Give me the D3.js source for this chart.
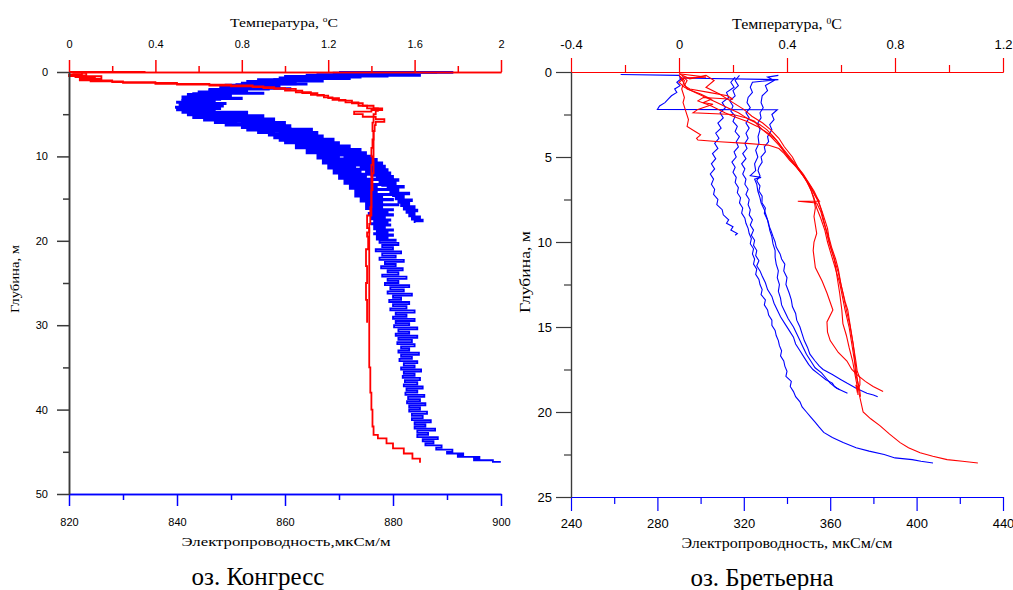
<!DOCTYPE html>
<html>
<head>
<meta charset="utf-8">
<script src="https://cdn.jsdelivr.net/npm/d3@7"></script>
<style>
  body { margin: 0; background: #fff; }
  svg { display: block; }
</style>
</head>
<body>
<svg id="chart" width="1013" height="590"></svg>
<script>
// ---- оз. Конгресс: [depth m, value] ----
const kongressCondA = [
  [0,870],[0.08,888],[0.16,869],[0.25,880],[0.35,866],[0.45,885],[0.55,860],[0.65,874],[0.75,859],[0.85,870],
  [0.95,855],[1.05,866],[1.15,853],[1.25,861],[1.35,852],[1.5,864],[1.6,849],[1.75,857],[1.9,848],[2,861],
  [2.15,846],[2.3,852],[2.45,844],[2.6,856],[2.75,842],[2.9,849],[3.05,841],[3.2,852],[3.35,841],[3.5,846],
  [3.65,840],[3.8,849],[3.95,840.5],[4.1,845],[4.25,839.8],[4.4,848],[4.55,840],[4.7,844],[4.85,841],[5,851],
  [5.15,842],[5.3,848],[5.45,843],[5.6,855],[5.75,845],[5.9,851],[6.05,847],[6.2,858],[6.35,849],[6.5,855],
  [6.65,852],[6.8,861],[6.95,853],[7.1,858],[7.25,855],[7.4,864],[7.55,857],[7.7,862],[7.85,858],[8,866],
  [8.15,859],[8.3,863],[8.45,860],[8.6,868],[8.75,862],[8.9,866],[9.05,862],[9.2,871],[9.35,864],[9.5,868],
  [9.65,864],[9.8,873],[9.95,866],[10.1,870],[10.25,866],[10.4,875],[10.55,867],[10.7,872],[10.85,867],[11,876],
  [11.15,868],[11.3,873],[11.45,868],[11.6,877],[11.75,869],[11.9,874],[12.05,869],[12.2,878],[12.35,870],[12.5,875],
  [12.65,870],[12.8,879],[12.95,871],[13.1,876],[13.25,871],[13.4,879],[13.55,872],[13.7,877],[13.85,872],[14,880],
  [14.15,873],[14.3,877],[14.45,873],[14.6,880],[14.75,873],[14.9,878],[15.05,874],[15.2,880],[15.35,874],[15.5,878],
  [15.65,875],[15.8,881],[15.95,875],[16.1,878],[16.25,875],[16.4,880],[16.55,876],[16.7,879],[16.85,875.5],[17,880],
  [17.15,876],[17.3,878.5],[17.45,876],[17.6,879.5],[17.75,876.5],[17.9,879],[18.05,876],[18.2,879.5],[18.35,876.5],[18.5,878.5],
  [18.65,876.5],[18.8,880],[18.95,877],[19.1,879],[19.25,876.5],[19.4,880],[19.55,877],[19.7,879],[19.85,877],[20,880.5],
  [20.25,877.5],[20.5,881],[20.75,878],[21,880],[21.25,876.8],[21.5,881.5],[21.75,878],[22,880.5],[22.25,877.5],[22.5,882],
  [22.75,878.5],[23,880.5],[23.25,877.8],[23.5,881.8],[23.75,879],[24,881],[24.25,878],[24.5,882.5],[24.75,879],[25,881],
  [25.25,878.5],[25.5,883],[25.75,879.5],[26,882],[26.25,879],[26.5,883.5],[26.75,880],[27,881.5],[27.25,879.3],[27.5,883],
  [27.75,880],[28,882.5],[28.25,879.5],[28.5,884],[28.75,880.5],[29,882.5],[29.25,880],[29.5,884],[29.75,880.5],[30,883],
  [30.25,880.2],[30.5,884.5],[30.75,881],[31,883],[31.25,880.5],[31.5,884.5],[31.75,881],[32,883.5],[32.25,880.8],[32.5,884],
  [32.75,881.5],[33,883],[33.25,881],[33.5,884.8],[33.75,881.5],[34,883.5],[34.25,881.2],[34.5,884.5],[34.75,882],[35,884],
  [35.25,881.5],[35.5,885.2],[35.75,882],[36,884],[36.25,881.8],[36.5,885],[36.75,882.2],[37,884.5],[37.25,882],[37.5,885.5],
  [37.75,882.5],[38,884.5],[38.25,882.3],[38.5,885.8],[38.75,882.8],[39,885],[39.25,882.6],[39.5,886],[39.75,883],[40,885],
  [40.25,883],[40.5,886.3],[40.75,883.5],[41,885.5],[41.25,883.5],[41.5,887],[41.75,884],[42,886],[42.25,884],[42.5,887.8],
  [42.75,884.5],[43,886.5],[43.25,884.5],[43.5,888.3],[43.75,885.5],[44,887.5],[44.25,886],[44.5,889],[44.75,888],[45,891],
  [45.2,890],[45.4,893],[45.6,892],[45.8,896],[46,895],[46.2,898.5],[46.3,899.8]
];
const kongressCondB = [
  [0,876],[0.1,891],[0.2,873],[0.3,884],[0.42,864],[0.55,879],[0.7,861],[0.85,872],[1,858],[1.15,867],
  [1.3,855],[1.45,862],[1.6,851],[1.8,859],[1.95,849],[2.1,857],[2.3,846],[2.5,853],[2.7,843],[2.9,850],
  [3.1,842],[3.3,848],[3.5,841],[3.7,847],[3.9,840.5],[4.1,848.5],[4.3,841],[4.5,847],[4.7,842],[4.9,853],
  [5.1,844],[5.3,856],[5.5,847],[5.7,858],[5.9,849],[6.1,860],[6.3,852],[6.5,861],[6.7,855],[6.9,865],
  [7.1,857],[7.3,866],[7.5,859],[7.7,867],[7.9,861],[8.1,869],[8.3,863],[8.5,870],[8.7,865],[8.9,872],
  [9.1,866],[9.3,874],[9.5,868],[9.7,875],[9.9,869],[10.1,876],[10.3,871],[10.5,877],[10.7,872],[10.9,878],
  [11.1,873],[11.3,878.5],[11.5,874],[11.7,879],[11.9,875],[12.1,879.5],[12.3,876],[12.5,880],[12.7,877],[12.9,881],
  [13.1,877.5],[13.3,880.5],[13.5,878],[13.7,882],[13.9,879],[14.1,881],[14.3,879.5],[14.5,883],[14.7,880],[14.9,882],
  [15.1,880.5],[15.3,883.5],[15.5,881],[15.7,883],[15.9,881.5],[16.1,884],[16.3,882],[16.5,884.5],[16.7,882.5],[16.9,884],
  [17.1,883],[17.3,885],[17.5,883.5],[17.7,885.5],[17.9,884]
];
const kongressTempA = [
  [0,0],[0.02,0.35],[0.1,0.02],[0.4,0.08],[0.6,0.03],[0.9,0.12],[1.1,0.1],[1.3,0.25],[1.5,0.5],[1.7,0.75],
  [1.9,0.9],[2.2,1],[2.5,1.08],[2.8,1.15],[3.1,1.2],[3.4,1.25],[3.7,1.31],[4,1.36],[4.3,1.41],[4.6,1.43],
  [5,1.42],[5.5,1.41],[6,1.41],[7,1.405],[8,1.41],[9,1.405],[10,1.4],[11,1.405],[12,1.4],[14,1.4],
  [16,1.4],[18,1.395],[20,1.39],[22,1.39],[25,1.39],[28,1.39],[30,1.39],[32,1.39],[35,1.39],[38,1.395],
  [40,1.4],[42,1.405],[43,1.41],[43.4,1.43],[44,1.47],[44.6,1.5],[45.2,1.55],[45.8,1.59],[46.3,1.625]
];
const kongressTempB = [
  [0,0],[0.3,0.06],[0.5,0],[0.8,0.15],[1,0.05],[1.2,0.2],[1.4,0.4],[1.6,0.65],[1.8,0.85],[2,0.95],
  [2.4,1.05],[2.7,1.12],[3,1.18],[3.3,1.22],[3.6,1.28],[4,1.34],[4.3,1.38],[4.5,1.45],[4.7,1.4],[5,1.32],
  [5.3,1.36],[5.6,1.42],[5.9,1.46],[6.3,1.42],[7,1.415],[8,1.41],[10,1.41],[12,1.41],[14,1.405],[16,1.4],
  [17,1.4],[17.5,1.38],[18.5,1.38],[19,1.39],[19.5,1.38],[21,1.385],[23,1.375],[25,1.38],[27,1.375],[29.7,1.38]
];

// ---- оз. Бретьерна ----
const bretCond1 = [
  [0.3,316],[0.6,314],[0.9,315.5],[1.2,312],[1.5,313],[1.8,310],[2.1,311.5],[2.4,309],[2.7,310.5],[3,308],
  [3.3,309.5],[3.6,307],[3.9,308.5],[4.2,306.5],[4.5,308],[4.8,305.5],[5.1,307],[5.4,305],[5.7,306.5],[6,304.5],
  [6.3,306],[6.6,305],[6.9,306.5],[7.2,306],[7.5,308],[7.8,307.5],[8.1,310],[8.4,310.5],[8.7,313],[8.9,312],
  [9.1,315],[9.3,314],[9.5,317],[9.6,316]
];
const bretCond2 = [
  [0.2,318],[0.5,316],[0.8,317.5],[1.1,315],[1.4,316],[1.7,313.5],[2,315],[2.3,314],[2.6,316],[2.9,315],
  [3.2,317],[3.5,316],[3.8,318],[4.1,316.5],[4.4,317.5],[4.7,315.5],[5,316.5],[5.3,314.5],[5.6,316],[5.9,315],
  [6.2,316.5],[6.5,316],[6.8,317.5],[7.1,317],[7.4,318.5],[7.7,318],[8,319.5],[8.3,319],[8.6,320.5],[8.9,321],
  [9.2,322],[9.5,322.5],[9.8,323.5],[10.1,323],[10.4,324.5],[10.7,324],[11,325],[11.3,324.5],[11.6,326],[11.9,325.5],
  [12.2,327],[12.5,327.5],[12.8,328.5],[13.1,328],[13.4,330],[13.7,329.5],[14,331],[14.3,331.5],[14.6,333],[14.9,333],
  [15.2,334.5],[15.5,335],[15.8,336],[16.1,336.5],[16.4,337.5],[16.7,337],[17,338.5],[17.3,339],[17.6,340],[17.9,339.5],
  [18.2,342],[18.5,341.5],[18.8,343],[19.1,344],[19.4,346],[19.7,347],[20,349],[20.3,351],[20.6,353],[20.9,355],
  [21.2,357],[21.5,361],[21.8,366],[22.1,372],[22.3,378],[22.5,385],[22.7,390],[22.8,398],[22.9,402],[23,407.6]
];
const bretCond3 = [
  [0.35,290],[0.45,336],[0.6,324],[0.9,323],[1.2,324],[1.5,322],[1.8,321.5],[2.1,323],[2.4,321],[2.7,322.5],
  [3,321],[3.3,322.5],[3.6,321],[3.9,322],[4.2,320.5],[4.5,321.5],[4.8,319.5],[5.1,321],[5.4,319],[5.7,320.5],
  [6,319.5],[6.3,321],[6.6,320.5],[6.9,322],[7.2,321],[7.5,322.5],[7.8,322],[8.1,323],[8.4,322.5],[8.7,324],
  [9,323],[9.3,324.5],[9.6,323.5],[9.9,325],[10.2,324.5],[10.5,326],[10.8,325.5],[11.1,327],[11.4,326],[11.7,327.5],
  [12,328.5],[12.4,330],[12.8,331],[13.2,333],[13.6,334],[14,335.5],[14.4,337],[14.8,339],[15.2,341],[15.6,343],
  [16,344],[16.4,346],[16.8,348],[17.2,350],[17.5,352],[17.8,355],[18.1,358],[18.3,361],[18.5,362],[18.7,364.5]
];
const bretCond4 = [
  [0.15,263],[0.2,290],[0.4,291],[0.6,289],[0.8,290.5],[1,288],[1.2,289],[1.4,286.5],[1.6,285],[1.8,283.5],
  [2,281],[2.2,280],[2.22,335.5],[2.5,333],[2.8,334],[3.1,332],[3.4,333],[3.8,331],[4.1,331.5],[4.4,329.5],
  [4.7,330],[5,328],[5.3,328.5],[5.6,327],[5.8,326.6],[6.1,327.5],[6.4,326],[6.7,327.5],[7,327],[7.3,328.5],
  [7.7,328.4],[8,330],[8.3,329.5],[8.7,331],[9,331.5],[9.3,332.5],[9.7,333.6],[10,334.5],[10.3,335],[10.7,336.8],
  [11,337.5],[11.3,339],[11.7,338.5],[12.1,340],[12.5,339.5],[13,341],[13.4,342],[13.8,342.5],[14.2,344],[14.6,344.5],
  [15,346],[15.4,347],[15.8,348],[16.2,349.5],[16.6,350.6],[17,353],[17.3,355],[17.5,356.7],[17.8,361],[18.1,365],
  [18.3,367.7],[18.6,372],[18.9,377],[19,380],[19.1,382]
];
const bretCond5 = [
  [0.2,336],[0.3,331],[0.5,334],[0.8,330],[1.1,331],[1.4,328.5],[1.8,328],[2.1,329],[2.4,327.5],[2.7,328],
  [3,326.5],[3.4,327.5],[3.8,326.6],[4.2,327],[4.6,325.5],[5,326.5],[5.4,325],[5.8,325.5],[6.1,323],[6.2,328],
  [6.3,325],[6.6,326],[7,326.5],[7.4,327.5],[7.7,328],[8.1,329.5],[8.5,330.5],[8.9,331.5],[9.3,332],[9.7,333],
  [10.1,333.5],[10.5,334.5],[10.9,334.5],[11.3,335],[11.7,336],[12.1,335.5],[12.5,336.5],[12.9,336],[13.3,337],[13.7,337.5],
  [14.1,339],[14.5,340.5],[15,343],[15.4,344.5],[15.8,346],[16.2,347.5],[16.6,349],[17,351],[17.4,353],[17.7,356],
  [18,358],[18.3,360],[18.6,363],[18.9,368]
];
const bretTemp1 = [
  [0.2,0],[0.5,0.02],[1,0.01],[1.5,0.02],[1.8,0.015],[2.3,0.025],[2.8,0.035],[3.2,0.03],[3.5,0.06],[3.7,0.08],
  [3.9,0.065],[4,0.07],[4.1,0.15],[4.2,0.25],[4.3,0.33],[4.5,0.37],[4.8,0.39],[5.2,0.41],[5.6,0.435],[6,0.455],
  [6.5,0.475],[7,0.49],[7.5,0.5],[8,0.505],[8.5,0.5],[9,0.505],[9.5,0.51],[10,0.5],[10.5,0.497],[11.5,0.505],
  [12.3,0.53],[13,0.548],[14,0.57],[14.7,0.548],[15.3,0.55],[15.8,0.56],[16.5,0.59],[17,0.622],[17.5,0.64],[17.8,0.659],
  [18.2,0.69],[18.5,0.719],[18.8,0.756]
];
const bretTemp2 = [
  [0.1,0],[0.3,0.1],[0.35,0.02],[0.6,0],[0.9,0.02],[1.2,0.06],[1.5,0.1],[1.8,0.14],[2.1,0.18],[2.4,0.22],
  [2.8,0.26],[3.1,0.3],[3.4,0.326],[3.8,0.35],[4.2,0.37],[4.7,0.39],[5.2,0.415],[5.6,0.437],[6,0.455],[6.5,0.478],
  [7,0.495],[7.3,0.505],[7.6,0.515],[8.2,0.53],[8.7,0.54],[9.2,0.55],[9.7,0.555],[10.3,0.565],[11,0.58],[11.6,0.59],
  [12.5,0.6],[13,0.607],[14,0.62],[14.9,0.633],[16,0.645],[17,0.652],[17.9,0.659],[19,0.668],[20,0.682],[20.4,0.71],
  [20.8,0.744],[21.3,0.78],[21.8,0.819],[22.1,0.85],[22.4,0.893],[22.6,0.94],[22.8,0.993],[22.9,1.05],[23,1.107]
];
const bretTemp3 = [
  [0.2,0.01],[0.5,0.03],[0.8,0.02],[1,0.04],[1.2,0.11],[1.4,0.18],[1.6,0.2],[1.5,0.09],[1.7,0.07],[2,0.12],
  [2.4,0.17],[2.6,0.2],[2.9,0.25],[3.2,0.29],[3.6,0.33],[4,0.36],[4.5,0.385],[5,0.41],[5.5,0.435],[6,0.46],
  [6.5,0.48],[7,0.5],[7.5,0.515],[8,0.525],[9,0.54],[10,0.555],[11,0.575],[12,0.585],[13,0.595],[14,0.603],
  [14.8,0.607],[15.5,0.62],[16.2,0.63],[17,0.643],[17.8,0.652],[18.5,0.66],[19,0.663]
];
const bretTemp4 = [
  [0.3,0.005],[0.7,0.02],[1,0.03],[1.3,0.08],[1.6,0.12],[1.8,0.09],[1.9,0.126],[2.2,0.07],[2.4,0.052],[2.5,0.2],
  [2.7,0.25],[2.9,0.28],[3.1,0.29],[3.4,0.31],[3.8,0.34],[4.3,0.37],[4.8,0.395],[5.3,0.42],[5.8,0.445],[6.3,0.47],
  [6.8,0.49],[7.3,0.505],[7.6,0.52],[7.6,0.44],[7.7,0.51],[8.2,0.525],[8.8,0.535],[9.5,0.55],[10.2,0.56],[11,0.575],
  [11.8,0.59],[12.5,0.6],[13.5,0.615],[14,0.625],[15,0.635],[16,0.645],[17,0.655],[17.6,0.66],[18,0.67],[18.4,0.67],
  [18.8,0.66],[18.4,0.655],[18.6,0.665]
];
const bretTemp5 = [
  [0.1,0],[0.4,0.04],[0.2,0.1],[0.5,0.13],[0.9,0.1],[1.3,0.15],[1.8,0.2],[2.2,0.24],[2.6,0.27],[3,0.31],
  [3.4,0.34],[3.9,0.37],[4.4,0.39],[5,0.42],[5.6,0.44],[6.2,0.465],[6.8,0.485],[7.4,0.5],[8,0.51],[8.6,0.525],
  [9.3,0.54],[10,0.55],[10.8,0.565],[11.6,0.58],[12.4,0.595],[13.2,0.605],[14,0.615],[15,0.63],[16,0.64],[17,0.65],
  [17.8,0.655],[18.4,0.665],[18.8,0.67],[19.1,0.672]
];

// ---- ticks ----
const kongressTempTicks = [0, 0.4, 0.8, 1.2, 1.6, 2];
const kongressTempMinor = [0.2, 0.6, 1.0, 1.4, 1.8];
const kongressCondTicks = [820, 840, 860, 880, 900];
const kongressCondMinor = [830, 850, 870, 890];
const kongressDepthTicks = [0, 10, 20, 30, 40, 50];
const kongressDepthMinor = [5, 15, 25, 35, 45];

const bretTempTicks = [-0.4, 0, 0.4, 0.8, 1.2];
const bretTempMinor = [-0.2, 0.2, 0.6, 1.0];
const bretCondTicks = [240, 280, 320, 360, 400, 440];
const bretCondMinor = [260, 300, 340, 380, 420];
const bretDepthTicks = [0, 5, 10, 15, 20, 25];
const bretDepthMinor = [2.5, 7.5, 12.5, 17.5, 22.5];

const svg = d3.select("#chart");
const serif = "'Liberation Serif', 'Times New Roman', serif";
const sans = "'Liberation Sans', Arial, sans-serif";

const drawPanel = (o) => {
  const x = d3.scaleLinear().domain(o.condDomain).range([o.left, o.right]);
  const t = d3.scaleLinear().domain(o.tempDomain).range([o.left, o.right]);
  const y = d3.scaleLinear().domain(o.depthDomain).range([o.top, o.bottom]);

  const g = svg.append("g");

  const condLine = d3.line().x(d => x(d[1])).y(d => y(d[0])).curve(o.curve);
  const tempLine = d3.line().x(d => t(d[1])).y(d => y(d[0])).curve(o.curve);

  g.append("g").selectAll("path")
    .data(o.cond)
    .enter().append("path")
    .attr("d", condLine)
    .style("fill", "none")
    .style("stroke", "#0000ff")
    .style("stroke-width", o.lineWidth);

  g.append("g").selectAll("path")
    .data(o.temp)
    .enter().append("path")
    .attr("d", tempLine)
    .style("fill", "none")
    .style("stroke", "#ff0000")
    .style("stroke-width", o.lineWidth);

  const styleAxis = (sel, color, size) => {
    sel.select(".domain").style("stroke", color).style("stroke-width", o.axisWidth);
    sel.selectAll(".tick line").style("stroke", color).style("stroke-width", o.axisWidth);
    sel.selectAll(".tick text")
      .style("fill", "#000")
      .style("font-family", sans)
      .style("font-size", size + "px");
  };

  // top (temperature)
  g.append("g")
    .attr("transform", "translate(0," + o.top + ")")
    .call(d3.axisTop(t).tickValues(o.tempMinor).tickSize(o.minorTick).tickSizeOuter(0).tickFormat(""))
    .call(s => styleAxis(s, "#ff0000", o.tickFont));
  g.append("g")
    .attr("transform", "translate(0," + o.top + ")")
    .call(d3.axisTop(t).tickValues(o.tempTicks).tickSize(o.majorTick).tickSizeOuter(0)
      .tickPadding(o.topPad).tickFormat(d => String(d)))
    .call(s => styleAxis(s, "#ff0000", o.tickFont));

  // bottom (conductivity)
  g.append("g")
    .attr("transform", "translate(0," + o.bottom + ")")
    .call(d3.axisBottom(x).tickValues(o.condMinor).tickSize(o.minorTick).tickSizeOuter(0).tickFormat(""))
    .call(s => styleAxis(s, "#0000ff", o.tickFont));
  g.append("g")
    .attr("transform", "translate(0," + o.bottom + ")")
    .call(d3.axisBottom(x).tickValues(o.condTicks).tickSize(o.majorTick).tickSizeOuter(0)
      .tickPadding(o.bottomPad).tickFormat(d => String(d)))
    .call(s => styleAxis(s, "#0000ff", o.tickFont));

  // left (depth)
  g.append("g")
    .attr("transform", "translate(" + o.left + ",0)")
    .call(d3.axisLeft(y).tickValues(o.depthMinor).tickSize(o.minorTick).tickSizeOuter(0).tickFormat(""))
    .call(s => styleAxis(s, "#3a3a3a", o.tickFont));
  g.append("g")
    .attr("transform", "translate(" + o.left + ",0)")
    .call(d3.axisLeft(y).tickValues(o.depthTicks).tickSize(o.depthMajorTick).tickSizeOuter(0)
      .tickPadding(o.leftPad).tickFormat(d => String(d)))
    .call(s => styleAxis(s, "#3a3a3a", o.depthFont));

  // titles
  const title = g.append("text")
    .attr("x", o.tempTitle[0]).attr("y", o.tempTitle[1])
    .attr("text-anchor", "middle")
    .style("font-family", serif).style("font-size", o.titleFont + "px")
    .attr("textLength", o.tempTitle[2]).attr("lengthAdjust", "spacingAndGlyphs");
  title.append("tspan").text("Температура, ");
  title.append("tspan").text(o.degree).attr("dy", -5).style("font-size", (o.titleFont * 0.6) + "px");
  title.append("tspan").text("С").attr("dy", 5);

  g.append("text")
    .attr("x", o.condTitle[0]).attr("y", o.condTitle[1])
    .attr("text-anchor", "middle")
    .attr("textLength", o.condTitle[2]).attr("lengthAdjust", "spacingAndGlyphs")
    .style("font-family", serif).style("font-size", o.titleFont + "px")
    .text(o.condLabel);

  g.append("text")
    .attr("transform", "translate(" + o.depthTitle[0] + "," + o.depthTitle[1] + ") rotate(-90)")
    .attr("text-anchor", "middle")
    .attr("textLength", o.depthTitle[2]).attr("lengthAdjust", "spacingAndGlyphs")
    .style("font-family", serif).style("font-size", o.titleFont + "px")
    .text("Глубина, м");

  // lake name under the panel
  g.append("text")
    .attr("x", o.caption[0]).attr("y", o.caption[1])
    .attr("text-anchor", "middle")
    .style("font-family", serif).style("font-size", "25px")
    .text(o.name);
};

drawPanel({
  name: "оз. Конгресс",
  cond: [kongressCondB, kongressCondA],
  temp: [kongressTempB, kongressTempA],
  condDomain: [820, 900], tempDomain: [0, 2], depthDomain: [0, 50],
  condTicks: kongressCondTicks, condMinor: kongressCondMinor,
  tempTicks: kongressTempTicks, tempMinor: kongressTempMinor,
  depthTicks: kongressDepthTicks, depthMinor: kongressDepthMinor,
  left: 69, right: 501, top: 72, bottom: 494,
  curve: d3.curveStepAfter, lineWidth: 1.8, axisWidth: 1.5,
  majorTick: 12, minorTick: 6, depthMajorTick: 12,
  topPad: 12, bottomPad: 12, leftPad: 9,
  tickFont: 11, depthFont: 11, titleFont: 13,
  degree: "o",
  condLabel: "Электропроводность,мкСм/м",
  tempTitle: [284, 27, 108],
  condTitle: [286, 546, 209],
  depthTitle: [19, 279, 68],
  caption: [258, 585]
});

drawPanel({
  name: "оз. Бретьерна",
  cond: [bretCond1, bretCond2, bretCond3, bretCond4, bretCond5],
  temp: [bretTemp1, bretTemp2, bretTemp3, bretTemp4, bretTemp5],
  condDomain: [240, 440], tempDomain: [-0.4, 1.2], depthDomain: [0, 25],
  condTicks: bretCondTicks, condMinor: bretCondMinor,
  tempTicks: bretTempTicks, tempMinor: bretTempMinor,
  depthTicks: bretDepthTicks, depthMinor: bretDepthMinor,
  left: 571, right: 1003, top: 72, bottom: 497,
  curve: d3.curveLinear, lineWidth: 1.1, axisWidth: 1.2,
  majorTick: 14, minorTick: 7, depthMajorTick: 15,
  topPad: 9, bottomPad: 8, leftPad: 4,
  tickFont: 13, depthFont: 13, titleFont: 14,
  degree: "0",
  condLabel: "Электропроводность, мкСм/см",
  tempTitle: [787, 29, 110],
  condTitle: [787, 548, 211],
  depthTitle: [530, 272, 82],
  caption: [762, 586]
});
</script>
</body>
</html>
